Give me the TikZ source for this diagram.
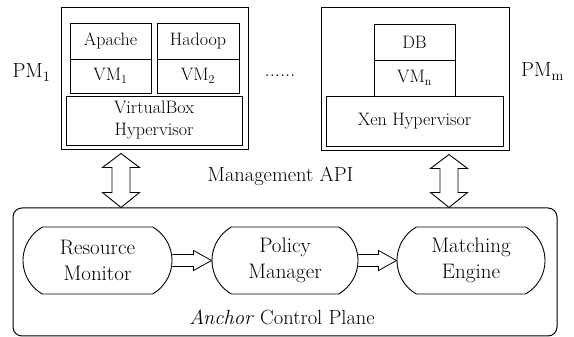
\documentclass[tikz,border=0pt]{standalone}
\usetikzlibrary{shapes.misc,calc}
\tikzset{
  pmbox/.style={draw,line width=1pt,inner sep=0pt},
  vmbox/.style={draw,line width=0.9pt,inner sep=0pt,align=center,
    font=\fontsize{18}{22}\selectfont},
  stage/.style={draw,rounded rectangle,rounded rectangle arc length=120,
    line width=0.9pt,minimum height=67pt,inner sep=0pt,align=center,
    font=\fontsize{21}{26}\selectfont},
  fat/.style={line width=0.9pt,line join=miter,fill=white},
  lbl/.style={font=\fontsize{20.5}{24}\selectfont}
}
\begin{document}
\begin{tikzpicture}[x=1pt,y=1pt]
  \useasboundingbox (0,0) rectangle (574,337);

  %physical machines
  \node[pmbox,minimum width=187pt,minimum height=142pt] (pma) at (154.5,258) {};
  \node[vmbox,minimum width=81pt,minimum height=36pt] (apache) at (110.5,296) {Apache};
  \node[vmbox,minimum width=81pt,minimum height=34pt] (vma) at (110.5,261) {VM$_1$};
  \node[vmbox,minimum width=82pt,minimum height=36pt] (hadoop) at (198,296) {Hadoop};
  \node[vmbox,minimum width=82pt,minimum height=34pt] (vmb) at (198,261) {VM$_2$};
  \node[vmbox,minimum width=176pt,minimum height=49pt] (vbox) at (154,216.5) {VirtualBox\\Hypervisor};

  \node[pmbox,minimum width=188pt,minimum height=143pt] (pmb) at (415,257.5) {};
  \node[vmbox,minimum width=81pt,minimum height=36pt] (db) at (414.5,295) {DB};
  \node[vmbox,minimum width=81pt,minimum height=36pt] (vmn) at (414.5,259) {VM$_{\rm n}$};
  \node[vmbox,minimum width=177pt,minimum height=50pt] (xen) at (414.5,216) {Xen Hypervisor};

  \node[lbl,anchor=base] (pmalbl) at (31.5,259) {PM$_1$};
  \node[lbl,anchor=base] (pmblbl) at (542.5,260) {PM$_{\rm m}$};
  \node[lbl,anchor=base] (dots) at (280,260) {......};
  \node[lbl,anchor=base] (api) at (280.5,155) {Management API};

  %control plane
  \node[draw,line width=1pt,rounded corners=9pt,minimum width=544pt,minimum height=128pt] (plane) at (285,65) {};
  \node[stage,minimum width=149pt] (rm) at (97.5,76.5) {Resource\\Monitor};
  \node[stage,minimum width=146pt] (pmg) at (285,76.5) {Policy\\Manager};
  \node[stage,minimum width=148pt] (me) at (471,76.5) {Matching\\Engine};
  \node[lbl,anchor=base] (cplbl) at (282,12) {\textit{Anchor} Control Plane};

  %api arrows
  \coordinate (a1) at ($(pma.south)+(-33.5,-3)$);
  \coordinate (b1) at (a1 |- plane.north);
  \coordinate (a2) at ($(pmb.south)+(34,-3)$);
  \coordinate (b2) at (a2 |- plane.north);
  \draw[fat] (a1) -- ++(18.5,-14) -- ++(-9.5,0) -- ($(b1)+(9,15)$) -- ++(9.5,0) -- (b1)
    -- ++(-18.5,15) -- ++(9.5,0) -- ($(a1)+(-9,-14)$) -- ++(-9.5,0) -- cycle;
  \draw[fat] (a2) -- ++(18.5,-14) -- ++(-9.5,0) -- ($(b2)+(9,15)$) -- ++(9.5,0) -- (b2)
    -- ++(-18.5,15) -- ++(9.5,0) -- ($(a2)+(-9,-14)$) -- ++(-9.5,0) -- cycle;

  %stage arrows
  \draw[line width=0.8pt,line join=miter] ([yshift=6pt]rm.east) -- ([xshift=-18pt,yshift=6pt]pmg.west)
    -- ([xshift=-18pt,yshift=10pt]pmg.west) -- (pmg.west) -- ([xshift=-18pt,yshift=-10pt]pmg.west)
    -- ([xshift=-18pt,yshift=-6pt]pmg.west) -- ([yshift=-6pt]rm.east);
  \draw[line width=0.8pt,line join=miter] ([yshift=6pt]pmg.east) -- ([xshift=-18pt,yshift=6pt]me.west)
    -- ([xshift=-18pt,yshift=10pt]me.west) -- (me.west) -- ([xshift=-18pt,yshift=-10pt]me.west)
    -- ([xshift=-18pt,yshift=-6pt]me.west) -- ([yshift=-6pt]pmg.east);
\end{tikzpicture}
\end{document}
